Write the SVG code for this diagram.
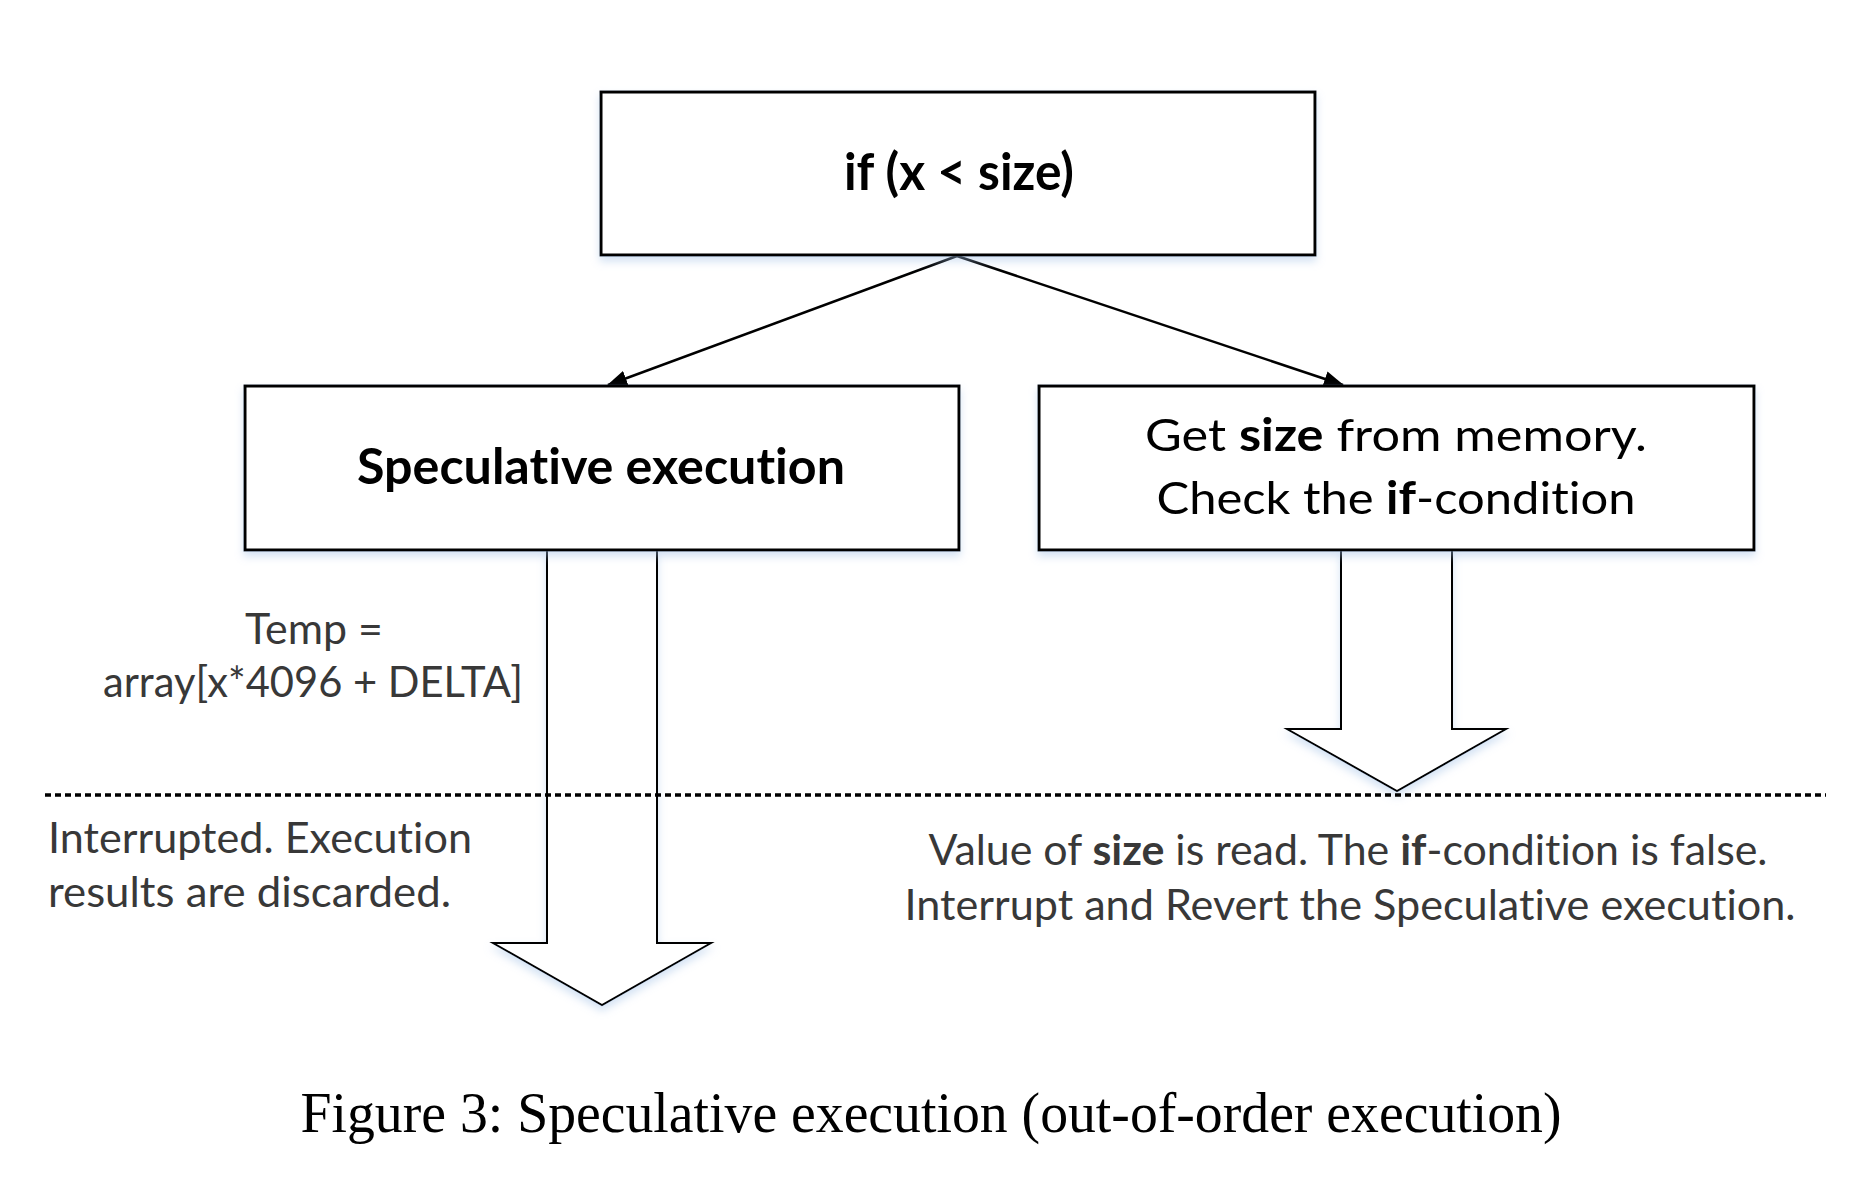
<svg xmlns="http://www.w3.org/2000/svg" width="1855" height="1181" viewBox="0 0 1855 1181">
<defs>
<style>
text{font-variant-ligatures:none;font-feature-settings:"liga" 0,"dlig" 0}
.box{fill:#fff;stroke:#000;stroke-width:3}
.conn{fill:none;stroke:#000;stroke-width:2.5}
.big{fill:#fff;stroke:#000;stroke-width:2}
.t{font-family:Lato,"Liberation Sans",sans-serif;text-anchor:middle}
.tl{font-family:Lato,"Liberation Sans",sans-serif}
.bx{font-size:45px;fill:#000}
.hd{font-size:50px;font-weight:bold;fill:#000}
.hd2{font-size:51px;font-weight:bold;fill:#000}
.an{font-size:42px;fill:#383838}
.cap{font-family:"Liberation Serif","Times New Roman",serif;font-size:56px;fill:#000;text-anchor:middle}
.dots{fill:none;stroke:#000;stroke-width:3.5;stroke-dasharray:6 4}
</style>
<filter id="sh" x="-10%" y="-20%" width="120%" height="150%">
<feDropShadow dx="0" dy="5" stdDeviation="4" flood-color="#9fc0e6" flood-opacity="0.45"/>
</filter>
<marker id="ah" viewBox="0 0 20 16" refX="19" refY="8" markerWidth="20" markerHeight="16" markerUnits="userSpaceOnUse" orient="auto">
<path d="M0,0 L20,8 L0,16 Z" fill="#000"/>
</marker>
</defs>
<rect width="1855" height="1181" fill="#fff"/>

<g id="connectors">
<line class="conn" x1="957" y1="256" x2="608" y2="385" marker-end="url(#ah)"/>
<line class="conn" x1="957" y1="256" x2="1343" y2="385" marker-end="url(#ah)"/>
<path id="arrow-left" class="big" filter="url(#sh)" d="M547,550 V943 H493 L602,1005 L711,943 H657 V550"/>
<path id="arrow-right" class="big" filter="url(#sh)" d="M1341,550 V729 H1287 L1397,791 L1506,729 H1452 V550"/>
</g>

<g id="node-if" filter="url(#sh)">
<rect class="box" x="601" y="92" width="714" height="163"/>
<text class="t hd2" x="959" y="190" textLength="230" lengthAdjust="spacingAndGlyphs">if (x &lt; size)</text>
</g>

<g id="node-spec" filter="url(#sh)">
<rect class="box" x="245" y="386" width="714" height="164"/>
<text class="t hd" x="601" y="484" textLength="488" lengthAdjust="spacingAndGlyphs">Speculative execution</text>
</g>

<g id="node-get" filter="url(#sh)">
<rect class="box" x="1039" y="386" width="715" height="164"/>
<text class="t bx" x="1396" y="451" textLength="502" lengthAdjust="spacingAndGlyphs">Get <tspan font-weight="bold">size</tspan> from memory.</text>
<text class="t bx" x="1396" y="514" textLength="479" lengthAdjust="spacingAndGlyphs">Check the <tspan font-weight="bold">if</tspan>-condition</text>
</g>

<line id="divider" class="dots" x1="45" y1="795" x2="1826" y2="795"/>

<g id="note-temp">
<text class="t an" x="314" y="644" textLength="138" lengthAdjust="spacingAndGlyphs">Temp =</text>
<text class="t an" x="313" y="697" textLength="420" lengthAdjust="spacingAndGlyphs">array[x*4096 + DELTA]</text>
</g>

<g id="note-interrupted">
<text class="tl an" x="48" y="853" textLength="424" lengthAdjust="spacingAndGlyphs">Interrupted. Execution</text>
<text class="tl an" x="48" y="907" textLength="403" lengthAdjust="spacingAndGlyphs">results are discarded.</text>
</g>

<g id="note-value">
<text class="t an" x="1348" y="865" textLength="839" lengthAdjust="spacingAndGlyphs">Value of <tspan font-weight="bold">size</tspan> is read. The <tspan font-weight="bold">if</tspan>-condition is false.</text>
<text class="t an" x="1350" y="920" textLength="891" lengthAdjust="spacingAndGlyphs">Interrupt and Revert the Speculative execution.</text>
</g>

<text id="caption" class="cap" x="931" y="1132" textLength="1261" lengthAdjust="spacingAndGlyphs">Figure 3: Speculative execution (out-of-order execution)</text>
</svg>
